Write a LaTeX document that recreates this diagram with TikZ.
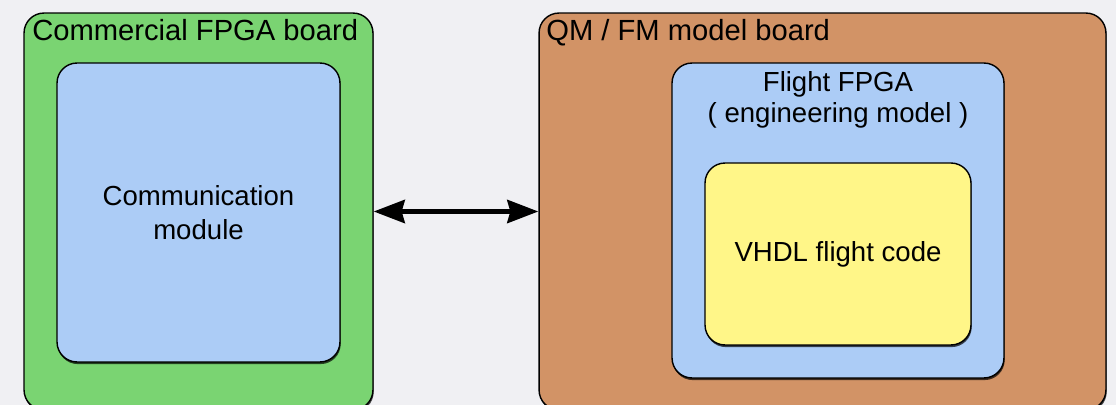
\documentclass[tikz,border=0pt]{standalone}
\usepackage{fontspec}
\setmainfont{Liberation Sans}
\usetikzlibrary{arrows.meta,shadows}
\definecolor{bgcol}{HTML}{F0F0F3}
\definecolor{boardgreen}{HTML}{7AD472}
\definecolor{boardbrown}{HTML}{D29366}
\definecolor{chipblue}{HTML}{ACCCF6}
\definecolor{codeyellow}{HTML}{FFF688}
\begin{document}
\begin{tikzpicture}[x=0.02cm,y=-0.02cm]
            \tikzstyle{box}=[draw=black,line width=0.8pt,rounded corners=0.4cm,
              drop shadow={shadow xshift=0.4pt,shadow yshift=-1.2pt,opacity=0.7,fill=black},
              inner sep=0pt,align=center,font=\fontsize{15.7}{19}\selectfont]
            \tikzstyle{title}=[anchor=north west,inner sep=0pt,font=\fontsize{16.6}{20}\selectfont]
            \tikzstyle{link}=[line width=2.8pt,{Stealth[length=0.62cm,width=0.46cm,inset=0.06cm]}-{Stealth[length=0.62cm,width=0.46cm,inset=0.06cm]}]
            % page
            \fill[bgcol] (0,0) rectangle (1116,405);
            \useasboundingbox (0,0) rectangle (1116,405);
            % commercial board
            \node[box,fill=boardgreen,minimum width=6.98cm,minimum height=7.94cm] (board_com) at (198.5,211.5) {};
            \node[title] (com_title) at (32,19) {Commercial FPGA board};
            \node[box,fill=chipblue,minimum width=5.66cm,minimum height=5.98cm] (comm_module) at (198.5,212.5) {Communication\\module};
            % QM / FM board
            \node[box,fill=boardbrown,minimum width=11.34cm,minimum height=7.94cm] (board_qm) at (822.5,211.5) {};
            \node[title] (qm_title) at (546,19) {QM / FM model board};
            \node[box,fill=chipblue,minimum width=6.64cm,minimum height=6.3cm] (fpga) at (838,220.5) {};
            \node[anchor=north,align=center,inner sep=0pt,font=\fontsize{15.7}{17.6}\selectfont] (fpga_title) at (838,71) {Flight FPGA\\( engineering model )};
            \node[box,fill=codeyellow,minimum width=5.32cm,minimum height=3.64cm] (vhdl) at (838,254) {VHDL flight code};
            % link
            \draw[link] (board_com) -- (board_qm);
\end{tikzpicture}
\end{document}
